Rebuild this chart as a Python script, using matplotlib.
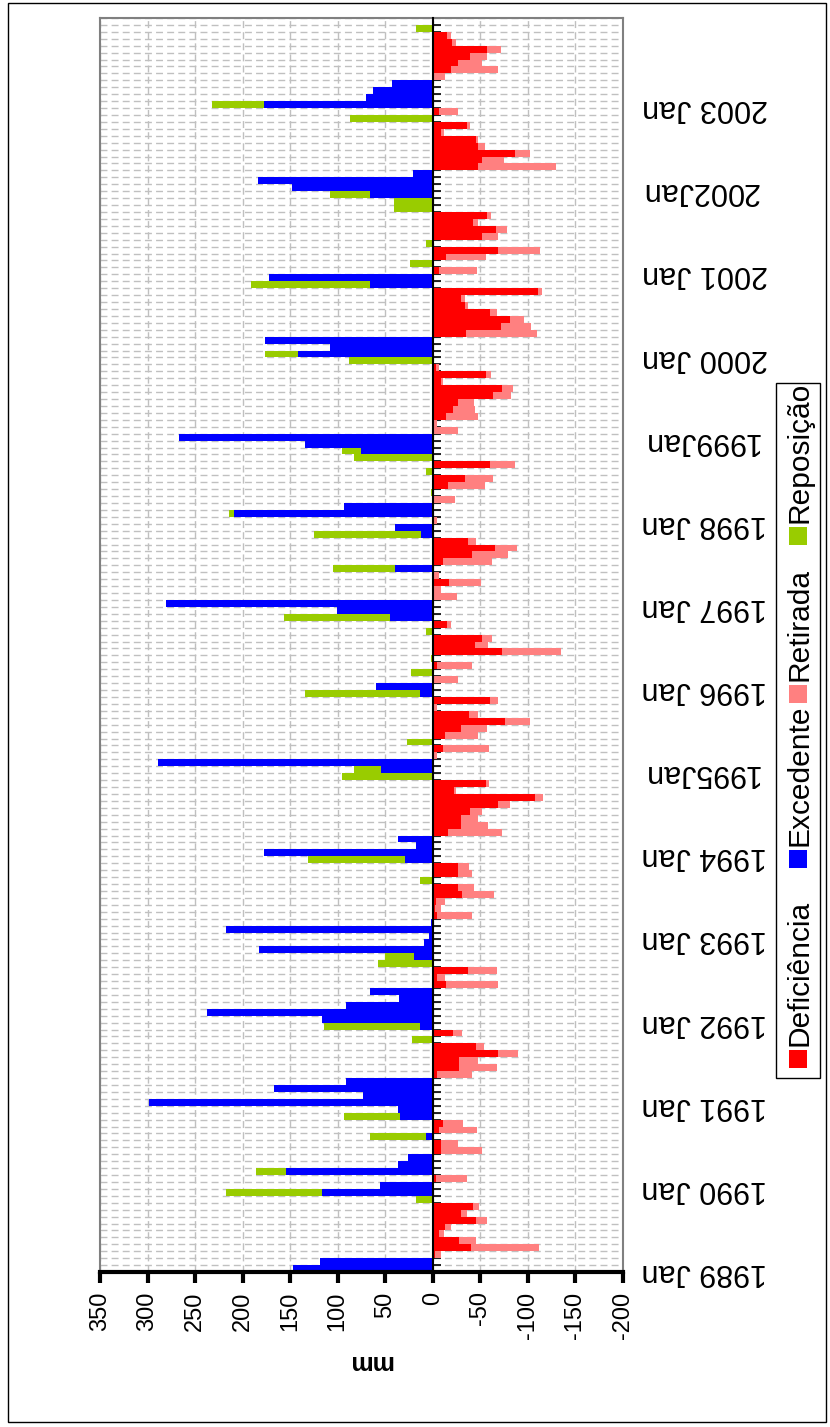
import matplotlib
matplotlib.use("Agg")
import matplotlib.pyplot as plt
from matplotlib.patches import Rectangle
from matplotlib.ticker import FixedLocator
import numpy as np

plt.rcParams['font.family'] = ['Liberation Sans', 'DejaVu Sans']

# Monthly water balance (mm), Jan 1989 - Dec 2003, one row of 12 per year
deficiencia = [
    0, 0, 2, 40, 28, 7, 12.5, 45.6, 30, 42, 0, 0,
    0, 3, 0, 0, 0, 9, 9, 0, 6, 11, 0, 0,
    0, 0, 0, 0, 4, 28, 28, 69, 45.6, 0, 21, 0,
    0, 0, 0, 0, 0, 14, 4, 37.5, 0, 0, 0, 0,
    0, 0, 0, 4, 2, 3, 31, 27, 0, 27, 26, 0,
    0, 0, 0, 16, 30, 30, 39.5, 69, 107, 22, 55.6, 0,
    0, 0, 1, 11, 0, 13, 29.4, 76, 38, 1, 60.5, 0,
    0, 1, 0, 4, 0, 73, 44, 52, 0, 15, 0, 0,
    0, 0, 0, 17, 0, 0, 11, 41.5, 65.7, 37, 0, 0,
    0, 0, 0, 0, 0, 16, 34, 0, 60.5, 0, 0, 0,
    0, 1, 1, 14, 21, 26, 63.7, 72.6, 9, 55.6, 3, 0,
    0, 0, 0, 35, 72, 81, 60.5, 34, 30, 111, 0, 0,
    7, 0, 14, 69, 0, 52, 66.5, 42, 56.5, 0, 0, 0,
    0, 0, 0, 47.6, 52, 86.7, 48, 45.6, 9, 36, 0, 7,
    0, 0, 0, 0, 1, 19, 27, 39.5, 57, 20, 15, 0,
]
excedente = [
    147, 119, 0, 0, 0, 0, 0, 0, 0, 0, 0, 117,
    55.6, 0, 154, 37, 26, 0, 0, 7, 0, 0, 34, 37,
    298, 73, 167, 91, 0, 0, 0, 0, 0, 0, 0, 14,
    117, 237, 91, 36, 66.5, 0, 0, 0, 0, 20, 183, 9,
    4.4, 217, 2, 0, 0, 0, 0, 0, 0, 0, 0, 29,
    178, 18, 37, 0, 0, 0, 0, 0, 0, 0, 0, 0,
    54.4, 289, 0, 0, 0, 0, 0, 0, 0, 0, 0, 14,
    60, 0, 0, 0, 0, 0, 0, 0, 0, 0, 45, 101,
    281, 0, 0, 0, 0, 40, 0, 0, 0, 0, 12, 40,
    0, 209, 93, 0, 0, 0, 0, 0, 0, 0, 76, 134,
    267, 0, 0, 0, 0, 0, 0, 0, 0, 0, 0, 0,
    142, 108, 176, 0, 0, 0, 0, 0, 0, 0, 66, 172,
    0, 0, 0, 0, 0, 0, 0, 0, 0, 0, 0, 66,
    148, 184, 21, 0, 0, 0, 0, 0, 0, 0, 0, 0,
    178, 70.6, 62.5, 43, 0, 0, 0, 0, 0, 0, 0, 0,
]
retirada = [
    0, 0, 7, 72, 17, 5, 6.5, 11.4, 6, 7, 0, 0,
    0, 32.5, 0, 0, 0, 43, 17, 0, 40, 21, 0, 0,
    0, 0, 0, 0, 37.5, 39, 19.6, 21, 8, 0, 10, 0,
    0, 0, 0, 0, 0, 54.5, 9, 29.5, 0, 0, 0, 0,
    0, 0, 0, 37.5, 7, 10, 33.5, 16, 0, 14, 12, 0,
    0, 0, 0, 56.5, 28.5, 18, 12, 12.5, 8.7, 2.6, 4, 0,
    0, 0, 3, 48, 0, 34.6, 27.6, 26, 9, 3, 8, 0,
    0, 26, 0, 37.5, 0, 62, 13.7, 10.5, 0, 4.4, 0, 0,
    0, 25, 9, 33.4, 7, 0, 51.5, 38, 23, 8.5, 0, 0,
    4, 0, 0, 23, 0, 39, 29, 0, 25.5, 0, 0, 0,
    0, 25, 3, 33, 23, 17, 19, 11.3, 2, 6, 4, 0,
    0, 0, 0, 75, 31.6, 15, 6.5, 3, 4, 4, 0, 0,
    39, 0, 41.6, 44, 0, 17, 11.5, 5.6, 4.5, 0, 0, 0,
    0, 0, 0, 82.4, 22.6, 15.3, 6.4, 2.4, 3, 3.5, 0, 20,
    0, 0, 0, 0, 12, 49.5, 24.6, 17.5, 15, 4, 4, 0,
]
reposicao = [
    0, 0, 0, 0, 0, 0, 0, 0, 0, 0, 18, 100,
    0, 0, 32, 0, 0, 0, 0, 59, 0, 0, 59, 0,
    0, 0, 0, 0, 0, 0, 0, 0, 0, 22, 0, 100,
    0, 0, 0, 0, 0, 0, 0, 0, 58, 30, 0, 0,
    0, 0, 0, 0, 0, 0, 0, 0, 13, 0, 0, 102,
    0, 0, 0, 0, 0, 0, 0, 0, 0, 0, 0, 96,
    28, 0, 0, 0, 27, 0, 0, 0, 0, 0, 0, 120,
    0, 0, 23, 0, 1.5, 0, 0, 0, 7, 0, 111, 0,
    0, 0, 0, 0, 0, 65, 0, 0, 0, 0, 112.5, 0,
    0, 5.6, 0, 0, 1.5, 0, 0, 7, 0, 83, 19, 0,
    0, 0, 0, 0, 0, 0, 0, 0, 0, 0, 0, 88,
    34, 0, 0, 0, 0, 0, 0, 0, 0, 0, 125, 0,
    0, 24, 0, 0, 7, 0, 0, 0, 0, 41, 41, 42,
    0, 0, 0, 0, 0, 0, 0, 0, 0, 0, 87, 0,
    54.4, 0, 0, 0, 0, 0, 0, 0, 0, 0, 0, 18,
]

year_labels = ["1989 Jan", "1990 Jan", "1991 Jan", "1992 Jan", "1993 Jan",
               "1994 Jan", "1995Jan", "1996 Jan", "1997 Jan", "1998 Jan",
               "1999Jan", "2000 Jan", "2001 Jan", "2002Jan", "2003 Jan"]
value_ticks = [350, 300, 250, 200, 150, 100, 50, 0, -50, -100, -150, -200]

series_names = ["Deficiência", "Excedente", "Retirada", "Reposição"]
series_colors = ["#FF0000", "#0000FF", "#FF8080", "#99CC00"]

W, H = 830, 1427


def fx(px):
    return px / W


def fy(py):
    return 1 - py / H


fig = plt.figure(figsize=(W / 100, H / 100), dpi=100)
fig.patch.set_facecolor("white")

ax = fig.add_axes([fx(100), fy(1272), fx(623) - fx(100), fy(18) - fy(1272)])

n = len(deficiencia)
n_slots = n + 1          # month axis runs on to Jan 2004, which has no values
pos = np.arange(n)
exc = np.array(excedente, dtype=float)
rep = np.array(reposicao, dtype=float)
dfc = np.array(deficiencia, dtype=float)
ret = np.array(retirada, dtype=float)

# stacked bars: surplus/recharge on the positive side, deficit/withdrawal on the negative side
ax.barh(pos, -dfc, height=1.0, left=0, color=series_colors[0], linewidth=0, zorder=2)
ax.barh(pos, exc, height=1.0, left=0, color=series_colors[1], linewidth=0, zorder=2)
ax.barh(pos, -ret, height=1.0, left=-dfc, color=series_colors[2], linewidth=0, zorder=2)
ax.barh(pos, rep, height=1.0, left=exc, color=series_colors[3], linewidth=0, zorder=2)

ax.set_xlim(350, -200)
ax.set_ylim(-0.5, n_slots - 0.5)

# value axis along the bottom
ax.set_xticks(value_ticks)
ax.set_xticklabels([str(v) for v in value_ticks], rotation=90, fontsize=17)
ax.tick_params(axis="x", which="major", direction="out", length=8, width=3,
               pad=6, color="black")

# month axis: boundary ticks on the zero line, year labels on the right
jan_pos = np.arange(0, n, 12)
ax.yaxis.set_major_locator(FixedLocator(jan_pos))
ax.yaxis.set_minor_locator(FixedLocator(np.arange(n_slots + 1) - 0.5))
ax.tick_params(axis="y", which="major", left=False, right=False,
               labelleft=False, labelright=True, labelrotation=180,
               labelsize=22, pad=10)
ax.tick_params(axis="y", which="minor", left=True, right=False,
               direction="in", length=6, width=1.2, color="black")
ax.set_yticks(jan_pos, labels=year_labels)
for tick in ax.yaxis.get_major_ticks():
    tick.label2.set_fontweight("bold")
    tick.label2.set_fontsize(22)
    tick.label2.set_verticalalignment("center")

ax.spines["left"].set_position(("data", 0))
ax.spines["left"].set_color("black")
ax.spines["left"].set_linewidth(1.5)
ax.spines["left"].set_zorder(4)
ax.spines["bottom"].set_color("black")
ax.spines["bottom"].set_linewidth(3)
ax.spines["bottom"].set_zorder(5)
for side in ("top", "right"):
    ax.spines[side].set_color("#808080")
    ax.spines[side].set_linewidth(1.5)

# plot-area frame on the left edge
ax.plot([0, 0], [0, 1], transform=ax.transAxes, color="#808080", lw=1.5,
        clip_on=False, zorder=3)

ax.set_axisbelow(True)
dash = (0, (5, 3))
ax.grid(True, axis="x", which="major", color="#c0c0c0", lw=1, ls=dash)
ax.grid(True, axis="y", which="minor", color="#c0c0c0", lw=1, ls=dash)

fig.text(fx(370), fy(1362), "mm", rotation=180, fontsize=18, fontweight="bold",
         ha="center", va="center")

# legend, written upward along the right margin
lx0, lx1, ly0, ly1 = 776, 820, 383, 1078
fig.patches.append(Rectangle((fx(lx0), fy(ly1)), fx(lx1) - fx(lx0), fy(ly0) - fy(ly1),
                             transform=fig.transFigure, fill=False, ec="black", lw=1))
sq_centers = [1059, 859, 694, 536]
sq = 18
for name, col, yc in zip(series_names, series_colors, sq_centers):
    fig.patches.append(Rectangle((fx(798 - sq / 2), fy(yc + sq / 2)), sq / W, sq / H,
                                 transform=fig.transFigure, fc=col, ec="none"))
    fig.text(fx(799), fy(yc - sq / 2 - 4), name, rotation=90, rotation_mode="anchor",
             ha="left", va="center", fontsize=21.5)

# chart outer frame
fig.patches.append(Rectangle((fx(8), fy(1422)), fx(826) - fx(8), fy(3) - fy(1422),
                             transform=fig.transFigure, fill=False, ec="black", lw=1))

fig.savefig("out.png", dpi=100)
